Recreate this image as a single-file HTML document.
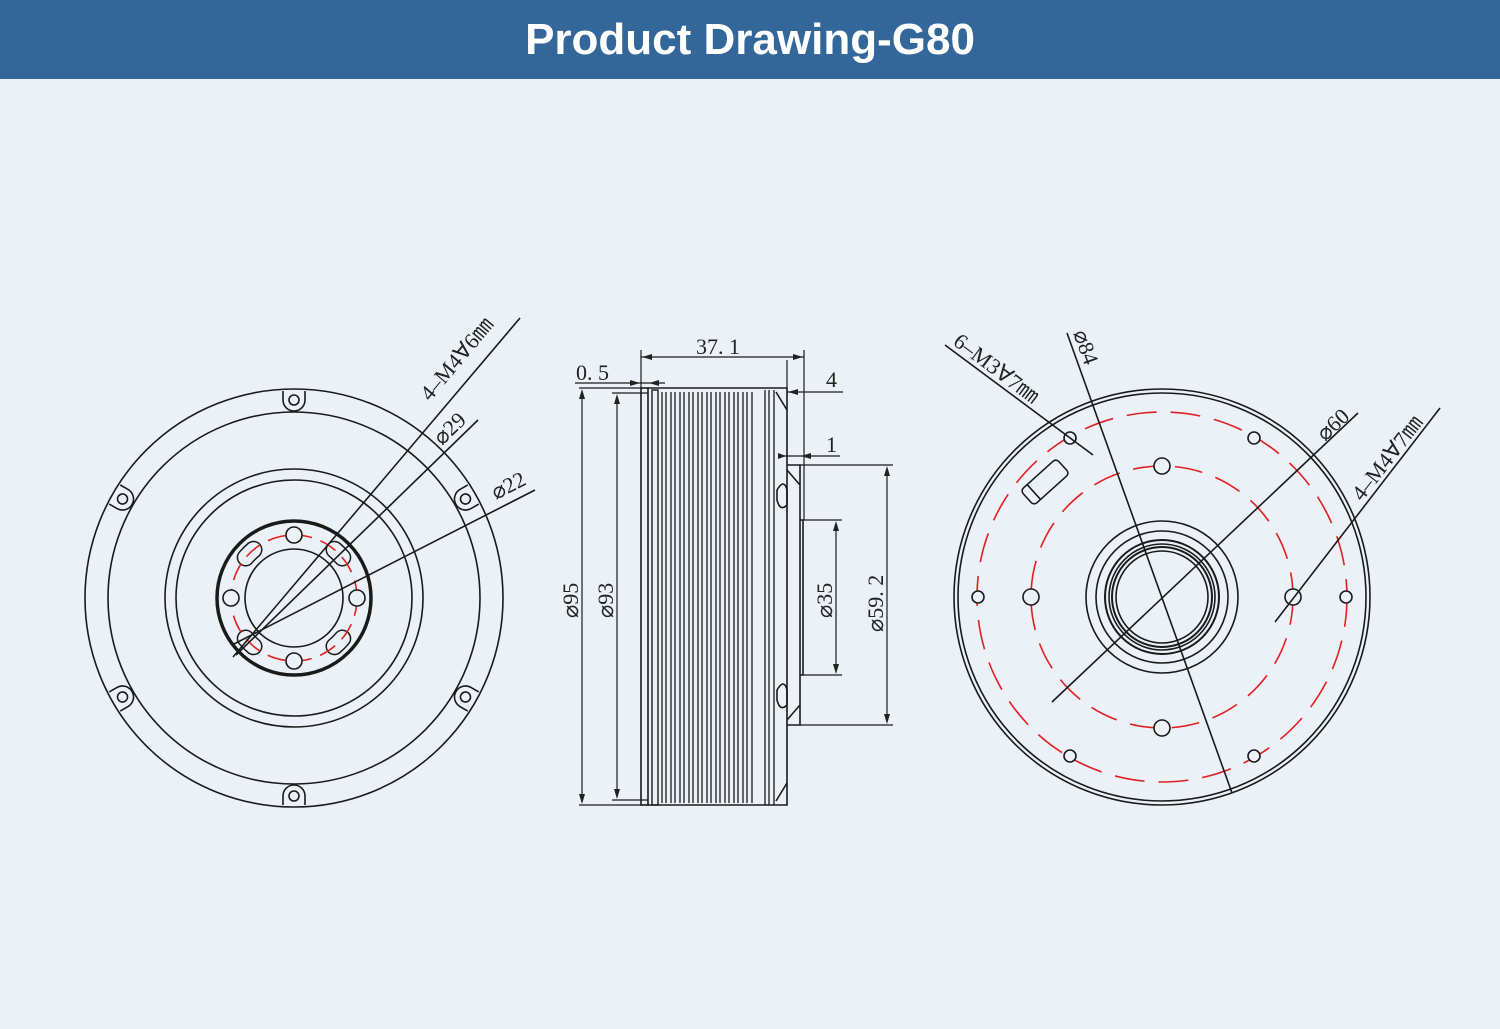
<!DOCTYPE html>
<html><head><meta charset="utf-8"><style>
html,body{margin:0;padding:0;background:#ecf1f7;}
.hd{position:absolute;left:0;top:0;width:1500px;height:79px;background:#336699;color:#fff;font-family:"Liberation Sans",sans-serif;font-weight:bold;font-size:44px;text-align:center;line-height:79px;}
svg{position:absolute;left:0;top:0;}
</style></head><body>
<div class="hd">Product Drawing-G80</div>
<svg width="1500" height="1029" viewBox="0 0 1500 1029" font-family="Liberation Serif,serif" fill="none" stroke="#1a1a1a" stroke-width="1.6">
<!-- LEFT VIEW -->
<g>
<circle cx="294" cy="598" r="209"/>
<circle cx="294" cy="598" r="186"/>
<circle cx="294" cy="598" r="129"/>
<circle cx="294" cy="598" r="118"/>
<circle cx="294" cy="598" r="77" stroke-width="3.5"/>
<circle cx="294" cy="598" r="49"/>
<g id="slots">
<path d="M334.5,549.7 A63,63 0 0 1 342.3,557.5" stroke="#1a1a1a" stroke-width="18" stroke-linecap="round"/>
<path d="M334.5,549.7 A63,63 0 0 1 342.3,557.5" stroke="#ecf1f7" stroke-width="15" stroke-linecap="round"/>
<path d="M315.5,538.8 A63,63 0 0 1 352.7,575.9" stroke="none"/>
</g>
<use href="#slots" transform="rotate(90 294 598)"/>
<use href="#slots" transform="rotate(180 294 598)"/>
<use href="#slots" transform="rotate(270 294 598)"/>
<circle cx="294" cy="598" r="63" stroke="#e02020" stroke-dasharray="18 9"/>
<g fill="#ecf1f7">
<circle cx="294" cy="535" r="8"/><circle cx="294" cy="661" r="8"/>
<circle cx="231" cy="598" r="8"/><circle cx="357" cy="598" r="8"/>
</g>
<g id="lug"><path d="M283,391 L283,400 A11,11 0 0 0 305,400 L305,391" fill="#ecf1f7"/><circle cx="294" cy="400" r="5"/></g>
<use href="#lug" transform="rotate(60 294 598)"/>
<use href="#lug" transform="rotate(120 294 598)"/>
<use href="#lug" transform="rotate(180 294 598)"/>
<use href="#lug" transform="rotate(240 294 598)"/>
<use href="#lug" transform="rotate(300 294 598)"/>
<line x1="233" y1="657" x2="520" y2="318"/>
<line x1="236" y1="655" x2="478" y2="420"/>
<line x1="232" y1="645" x2="535" y2="490"/>
<g fill="#222" stroke="none" font-size="22">
<text transform="translate(430,402) rotate(-50)">4–M4∀6㎜</text>
<text transform="translate(442,446) rotate(-44)">⌀29</text>
<text transform="translate(496,500) rotate(-27)">⌀22</text>
</g>
</g>
<!-- MIDDLE VIEW -->
<g>
<rect x="641" y="388" width="7" height="417"/>
<rect x="652" y="390" width="6" height="415" stroke-width="1.4"/>
<g stroke-width="1.3">
<line x1="662" y1="392" x2="662" y2="803"/><line x1="666" y1="392" x2="666" y2="803"/>
<line x1="671" y1="392" x2="671" y2="803"/><line x1="675" y1="392" x2="675" y2="803"/>
<line x1="680" y1="392" x2="680" y2="803"/><line x1="684" y1="392" x2="684" y2="803"/>
<line x1="689" y1="392" x2="689" y2="803"/><line x1="693" y1="392" x2="693" y2="803"/>
<line x1="698" y1="392" x2="698" y2="803"/><line x1="702" y1="392" x2="702" y2="803"/>
<line x1="707" y1="392" x2="707" y2="803"/><line x1="711" y1="392" x2="711" y2="803"/>
<line x1="716" y1="392" x2="716" y2="803"/><line x1="720" y1="392" x2="720" y2="803"/>
<line x1="725" y1="392" x2="725" y2="803"/><line x1="729" y1="392" x2="729" y2="803"/>
<line x1="734" y1="392" x2="734" y2="803"/><line x1="738" y1="392" x2="738" y2="803"/>
<line x1="743" y1="392" x2="743" y2="803"/><line x1="747" y1="392" x2="747" y2="803"/>
<line x1="752" y1="392" x2="752" y2="803"/>
<line x1="765" y1="390" x2="765" y2="805"/><line x1="769" y1="390" x2="769" y2="805"/><line x1="774" y1="390" x2="774" y2="805"/>
</g>
<path d="M648,388 L787,388 L787,805 L648,805"/>
<path d="M776,392 L787,410 M776,801 L787,783"/>
<path d="M787,465 L800,465 L800,725 L787,725 M787,470 L800,485 M787,720 L800,705"/>
<path d="M800,520 L803,520 L803,675 L800,675"/>
<path d="M777,490 Q784,478 787,490 L787,505 Q780,512 777,500 Z"/>
<path d="M777,690 Q784,678 787,690 L787,705 Q780,712 777,700 Z"/>
<g stroke-width="1.2">
<line x1="579" y1="388" x2="641" y2="388"/><line x1="579" y1="805" x2="641" y2="805"/>
<line x1="582" y1="392" x2="582" y2="802"/>
<line x1="612" y1="393" x2="648" y2="393"/><line x1="612" y1="800" x2="648" y2="800"/>
<line x1="617" y1="397" x2="617" y2="797"/>
<line x1="641" y1="350" x2="641" y2="388"/><line x1="804" y1="350" x2="804" y2="520"/>
<line x1="641" y1="357" x2="804" y2="357"/>
<line x1="575" y1="383" x2="665" y2="383"/>
<line x1="787" y1="360" x2="787" y2="388"/>
<line x1="787" y1="392" x2="843" y2="392"/>
<line x1="778" y1="456" x2="840" y2="456"/>
<line x1="800" y1="465" x2="893" y2="465"/><line x1="800" y1="725" x2="893" y2="725"/>
<line x1="887" y1="470" x2="887" y2="720"/>
<line x1="803" y1="520" x2="842" y2="520"/><line x1="803" y1="675" x2="842" y2="675"/>
<line x1="836" y1="524" x2="836" y2="671"/>
</g>
<g fill="#222" stroke="none">
<path d="M582,389 l-3,10 h6z M582,804 l-3,-10 h6z M617,394 l-3,10 h6z M617,799 l-3,-10 h6z"/>
<path d="M642,357 l10,-3 v6z M803,357 l-10,-3 v6z"/>
<path d="M640,383 l-10,-3 v6z M649,383 l10,-3 v6z"/>
<path d="M788,392 l10,-3 v6z M786,456 l-8,-3 v6z M801,456 l10,-3 v6z"/>
<path d="M887,466 l-3,10 h6z M887,724 l-3,-10 h6z M836,521 l-3,10 h6z M836,674 l-3,-10 h6z"/>
<g font-size="22">
<text x="696" y="354">37. 1</text>
<text x="576" y="380">0. 5</text>
<text x="826" y="387">4</text>
<text x="826" y="452">1</text>
<text transform="translate(578,618) rotate(-90)">⌀95</text>
<text transform="translate(613,618) rotate(-90)">⌀93</text>
<text transform="translate(832,618) rotate(-90)">⌀35</text>
<text transform="translate(883,632) rotate(-90)">⌀59. 2</text>
</g>
</g>
</g>
<!-- RIGHT VIEW -->
<g>
<circle cx="1162" cy="597" r="208"/>
<circle cx="1162" cy="597" r="204"/>
<circle cx="1162" cy="597" r="185" stroke="#e02020" stroke-dasharray="30 14"/>
<circle cx="1162" cy="597" r="131" stroke="#e02020" stroke-dasharray="28 14"/>
<circle cx="1162" cy="597" r="76"/>
<circle cx="1162" cy="597" r="66"/>
<circle cx="1162" cy="597" r="57" stroke-width="2"/>
<circle cx="1162" cy="597" r="53"/>
<circle cx="1162" cy="597" r="50" stroke-width="2"/>
<circle cx="1162" cy="597" r="46"/>
<g fill="#ecf1f7">
<circle cx="1070" cy="438" r="6"/><circle cx="1254" cy="438" r="6"/>
<circle cx="978" cy="597" r="6"/><circle cx="1346" cy="597" r="6"/>
<circle cx="1070" cy="756" r="6"/><circle cx="1254" cy="756" r="6"/>
<circle cx="1162" cy="466" r="8"/><circle cx="1162" cy="728" r="8"/>
<circle cx="1031" cy="597" r="8"/><circle cx="1293" cy="597" r="8"/>
</g>
<g transform="translate(1045,482) rotate(-42)">
<rect x="-24" y="-10" width="48" height="20" rx="4"/>
<line x1="-15" y1="-10" x2="-15" y2="10"/>
</g>
<line x1="1067" y1="333" x2="1232" y2="793"/>
<line x1="945" y1="345" x2="1093" y2="455"/>
<line x1="1052" y1="702" x2="1358" y2="413"/>
<line x1="1275" y1="622" x2="1440" y2="408"/>
<g fill="#222" stroke="none" font-size="22">
<text transform="translate(1073,333) rotate(70)">⌀84</text>
<text transform="translate(952,344) rotate(37)">6–M3∀7㎜</text>
<text transform="translate(1325,442) rotate(-43)">⌀60</text>
<text transform="translate(1362,502) rotate(-52)">4–M4∀7㎜</text>
</g>
</g>
</svg>
</body></html>
